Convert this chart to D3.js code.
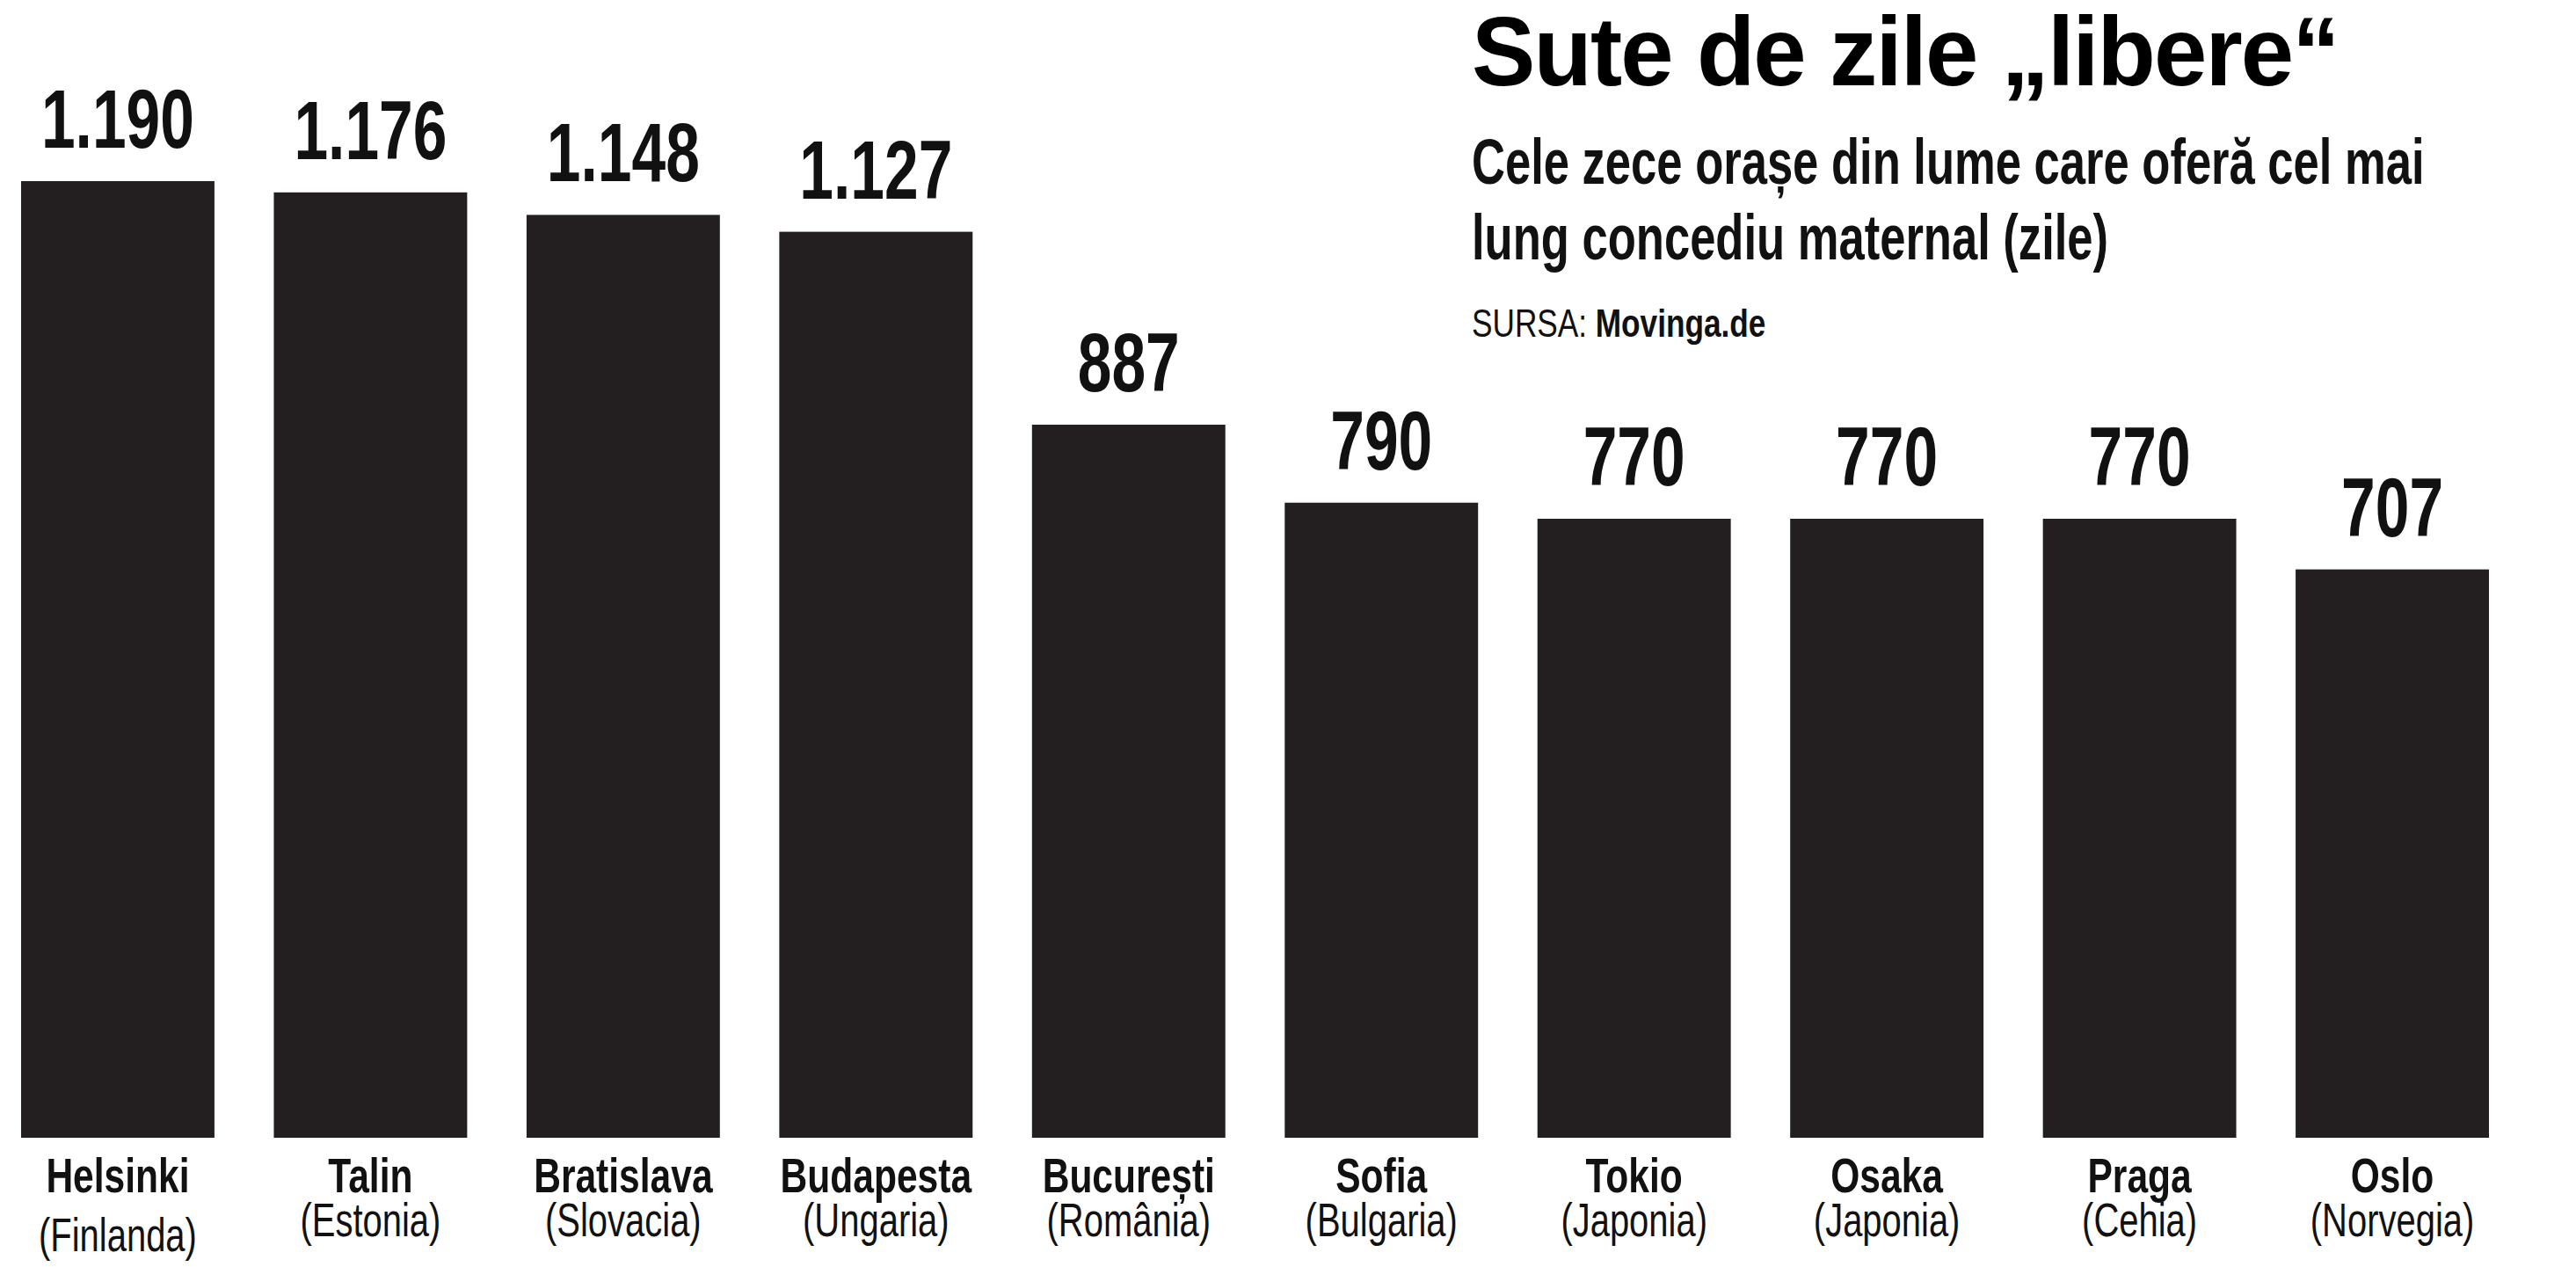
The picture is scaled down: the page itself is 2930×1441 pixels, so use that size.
<!DOCTYPE html>
<html><head><meta charset="utf-8">
<script src="https://cdn.jsdelivr.net/npm/d3@7/dist/d3.min.js"></script>
<style>body{margin:0;background:#fff}</style></head>
<body><svg id="c" width="2930" height="1441"></svg>
<script>
const cities=["Helsinki","Talin","Bratislava","Budapesta","București","Sofia","Tokio","Osaka","Praga","Oslo"];
const countries=["(Finlanda)","(Estonia)","(Slovacia)","(Ungaria)","(România)","(Bulgaria)","(Japonia)","(Japonia)","(Cehia)","(Norvegia)"];
const values=[1190,1176,1148,1127,887,790,770,770,770,707];
const valueLabels=["1.190","1.176","1.148","1.127","887","790","770","770","770","707"];
const svg=d3.select("#c");
const F="'Liberation Sans',Arial,sans-serif";
const x=d3.scaleBand().domain(cities).range([24,2831]).paddingInner(0.235).paddingOuter(0);
const y=d3.scaleLinear().domain([0,1190]).range([1294,206]);
function txt(p,tx,ty,sx,size,bold,str,anchor){
  return p.append("text").attr("transform",`translate(${tx},${ty}) scale(${sx},1)`)
   .attr("text-anchor",anchor||"middle").attr("font-family",F).attr("font-weight",bold?"bold":"normal")
   .attr("font-size",size).attr("fill","#111").text(str);
}
const g=svg.append("g");
g.selectAll("rect").data(values).join("rect")
 .attr("x",(d,i)=>x(cities[i])).attr("width",x.bandwidth())
 .attr("y",d=>y(d)).attr("height",d=>y(0)-y(d)).attr("fill","#231f20");
values.forEach((d,i)=>{
  const cx=x(cities[i])+x.bandwidth()/2;
  txt(g,cx,y(d)-38,0.74,94,true,valueLabels[i]);
  txt(g,cx,1356,0.76,56,true,cities[i]);
  txt(g,cx,i==0?1423:1406,0.74,54,false,countries[i]);
});
txt(svg,1674,97,0.97,112,true,"Sute de zile „libere“","start").attr("fill","#000").attr("letter-spacing",-2);
["Cele zece orașe din lume care oferă cel mai","lung concediu maternal (zile)"].forEach((t,i)=>
  txt(svg,1674,209+i*86,0.73,72,true,t,"start"));
const s=txt(svg,1674,383,0.8,44,false,"","start");
s.append("tspan").text("SURSA: ");
s.append("tspan").attr("font-weight","bold").text("Movinga.de");
</script></body></html>
